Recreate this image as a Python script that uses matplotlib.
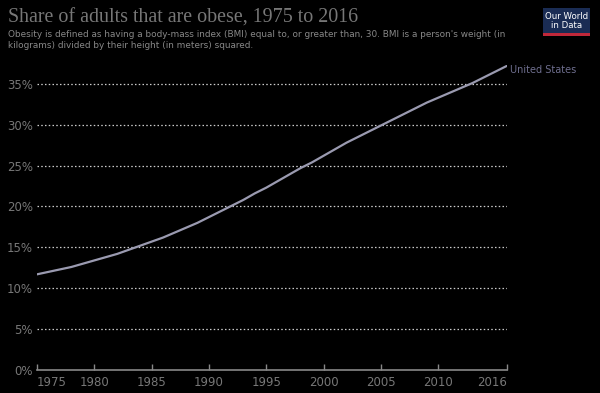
import matplotlib
matplotlib.use("Agg")
import matplotlib.pyplot as plt
from matplotlib.patches import Rectangle

years = list(range(1975, 2017))
obesity = [11.7, 12.0, 12.3, 12.6, 13.0, 13.4, 13.8, 14.2, 14.7, 15.2,
           15.7, 16.2, 16.8, 17.4, 18.0, 18.7, 19.4, 20.1, 20.8, 21.6,
           22.3, 23.1, 23.9, 24.7, 25.4, 26.2, 27.0, 27.8, 28.5, 29.2,
           29.9, 30.6, 31.3, 32.0, 32.7, 33.3, 33.9, 34.5, 35.1, 35.8,
           36.5, 37.2]
xticks = [1975, 1980, 1985, 1990, 1995, 2000, 2005, 2010, 2016]
yticks = [0, 5, 10, 15, 20, 25, 30, 35]
country = "United States"
title = "Share of adults that are obese, 1975 to 2016"
subtitle = ("Obesity is defined as having a body-mass index (BMI) equal to, or greater than, 30. BMI is a person's weight (in\n"
            "kilograms) divided by their height (in meters) squared.")

W, H = 600, 393
fig = plt.figure(figsize=(W/100, H/100), dpi=100, facecolor="black")
ax = fig.add_axes([37/W, 1-370/H, (507-37)/W, (370-65)/H], facecolor="black")

ax.plot(years, obesity, color="#9a9ab0", lw=1.6, solid_capstyle="round")
ax.set_xlim(1975, 2016)
ax.set_ylim(0, 37.3)

for y in yticks[1:]:
    ax.axhline(y, color="#cccccc", lw=0.9, ls=(0, (1.2, 1.8)), zorder=0)

ax.set_yticks(yticks)
ax.set_yticklabels([f"{v}%" for v in yticks])
ax.set_xticks(xticks)
labels = ax.set_xticklabels([str(v) for v in xticks])
labels[0].set_ha("left")
labels[-1].set_ha("right")
for s in ["top", "right", "left"]:
    ax.spines[s].set_visible(False)
ax.spines["bottom"].set_color("#888888")
ax.spines["bottom"].set_linewidth(1.2)
ax.tick_params(axis="x", colors="#888888", length=4, width=1, direction="in",
               labelcolor="#777777", labelsize=8.5, pad=4)
ax.tick_params(axis="y", length=0, labelcolor="#777777", labelsize=8.5, pad=3)

ax.text(2016.3, obesity[-1] - 0.5, country, color="#6e6e8e", fontsize=7,
        va="center", ha="left", clip_on=False)

fig.text(8/W, 1-18/H, title, color="#777777", fontsize=14.4,
         family="Liberation Serif", va="center", ha="left")
fig.text(8/W, 1-40/H, subtitle, color="#888888", fontsize=6.4,
         va="center", ha="left", linespacing=1.2)

# logo
fig.patches.append(Rectangle((543/W, 1-33/H), 47/W, 25/H, transform=fig.transFigure,
                             facecolor="#1a2c54", edgecolor="none"))
fig.patches.append(Rectangle((543/W, 1-35.5/H), 47/W, 2.5/H, transform=fig.transFigure,
                             facecolor="#c0283a", edgecolor="none"))
fig.text(566.5/W, 1-21/H, "Our World\nin Data", color="white", fontsize=6.2,
         ha="center", va="center", linespacing=1.0)

fig.savefig("out.png", dpi=100, facecolor="black")
